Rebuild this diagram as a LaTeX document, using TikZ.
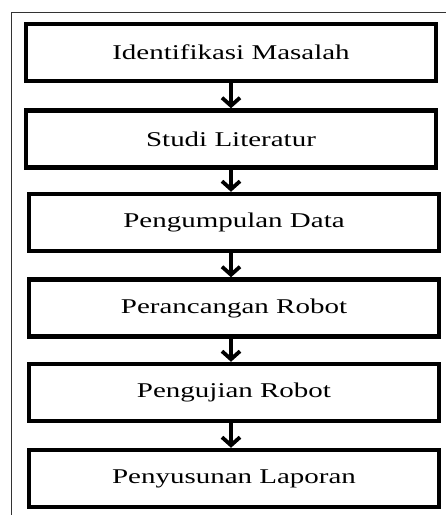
\documentclass[tikz,border=0pt]{standalone}
\usepackage{fontspec}
\setmainfont{Liberation Serif}
\usetikzlibrary{arrows.meta}

\tikzset{
  stepbox/.style={draw=black, line width=4.5pt, fill=white,
    minimum width=410pt, minimum height=57pt, inner sep=0pt},
  flowarrow/.style={line width=3.8pt,
    -{Straight Barb[length=8pt,width=18pt]}},
}
\newcommand{\boxlabel}[1]{\scalebox{1.38}[1]{\fontsize{21pt}{24pt}\selectfont #1}}

\begin{document}
\begin{tikzpicture}[x=1pt, y=-1pt]
  \useasboundingbox (0,0) rectangle (446,515);
  \clip (0,0) rectangle (446,515);
  % outer frame (runs past the right and bottom edges)
  \draw[line width=1.2pt, black!80] (11.5,12.5) rectangle (470,540);

  \node[stepbox] (s1) at (231,52.5)  {\boxlabel{Identifikasi Masalah}};
  \node[stepbox] (s2) at (231,139)   {\boxlabel{Studi Literatur}};
  \node[stepbox] (s3) at (234,222.5) {\boxlabel{Pengumpulan Data}};
  \node[stepbox] (s4) at (234,308)   {\boxlabel{Perancangan Robot}};
  \node[stepbox] (s5) at (234,392.5) {\boxlabel{Pengujian Robot}};
  \node[stepbox] (s6) at (234,478.5) {\boxlabel{Penyusunan Laporan}};

  \foreach \a/\b in {s1/s2, s2/s3, s3/s4, s4/s5, s5/s6}
    \draw[flowarrow] (\a.south -| 231,0) -- (\b.north -| 231,0);
\end{tikzpicture}
\end{document}
